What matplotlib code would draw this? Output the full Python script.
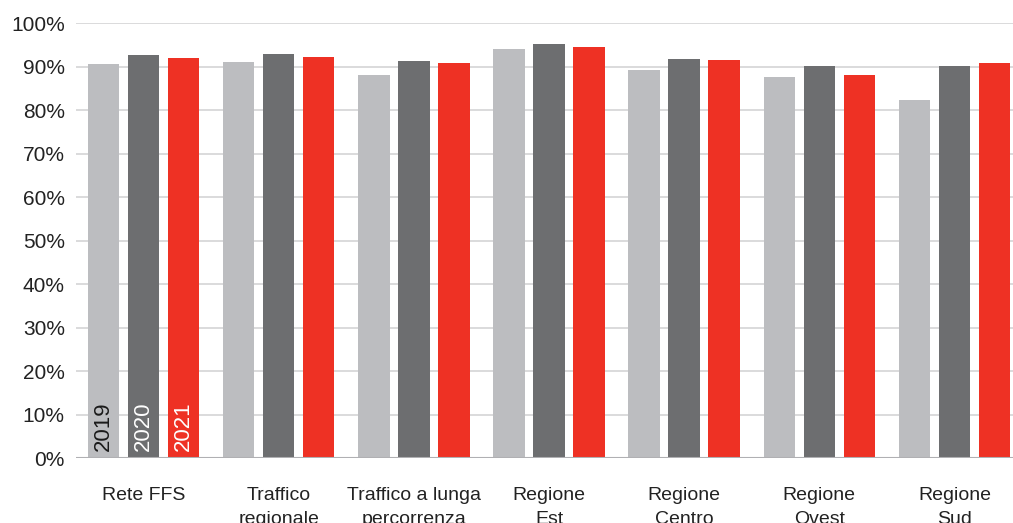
import matplotlib.pyplot as plt
import numpy as np

plt.rcParams['font.family'] = ['Liberation Sans', 'DejaVu Sans']

categories = ["Rete FFS", "Traffico\nregionale", "Traffico a lunga\npercorrenza",
              "Regione\nEst", "Regione\nCentro", "Regione\nOvest", "Regione\nSud"]
years = ["2019", "2020", "2021"]
v2019 = [90.6, 91.1, 88.1, 94.1, 89.2, 87.6, 82.3]
v2020 = [92.7, 92.9, 91.3, 95.2, 91.8, 90.1, 90.1]
v2021 = [92.0, 92.2, 90.9, 94.5, 91.5, 88.1, 90.9]
y_ticks = [0, 10, 20, 30, 40, 50, 60, 70, 80, 90, 100]

colors = ['#bcbdc0', '#6d6e70', '#ee3124']
text_colors = ['#1a1a1a', 'white', 'white']

fig = plt.figure(figsize=(10.13, 5.23), dpi=100)
# l'asse prosegue oltre il bordo destro come nell'originale
ax = fig.add_axes([0.075, 0.124, 0.934, 0.832])

x = np.arange(len(categories))
width = 0.233
offset = 0.296

for i, vals in enumerate([v2019, v2020, v2021]):
    pos = x + (i - 1) * offset
    ax.bar(pos, vals, width=width, color=colors[i], zorder=2)
    # etichetta anno nella prima barra
    ax.text(pos[0], 1.7, years[i], rotation=90, ha='center', va='bottom',
            fontsize=16, color=text_colors[i], zorder=3)

ax.set_xlim(-0.5, len(categories) - 0.5)
ax.set_ylim(0, 100)
ax.set_yticks(y_ticks)
ax.set_yticklabels([f"{t}%" for t in y_ticks], fontsize=15, color='#222222')
ax.set_xticks(x)
ax.set_xticklabels(categories, fontsize=14, color='#222222', linespacing=1.5)
ax.tick_params(axis='y', length=0, pad=8)
ax.tick_params(axis='x', length=0, pad=21)

for t in y_ticks[1:]:
    ax.axhline(t, color='#d4d4d6', linewidth=1.2, zorder=1)
ax.axhline(0, color='#b0b0b3', linewidth=1.5, zorder=3)

for s in ax.spines.values():
    s.set_visible(False)

fig.savefig('out.png', dpi=100)
